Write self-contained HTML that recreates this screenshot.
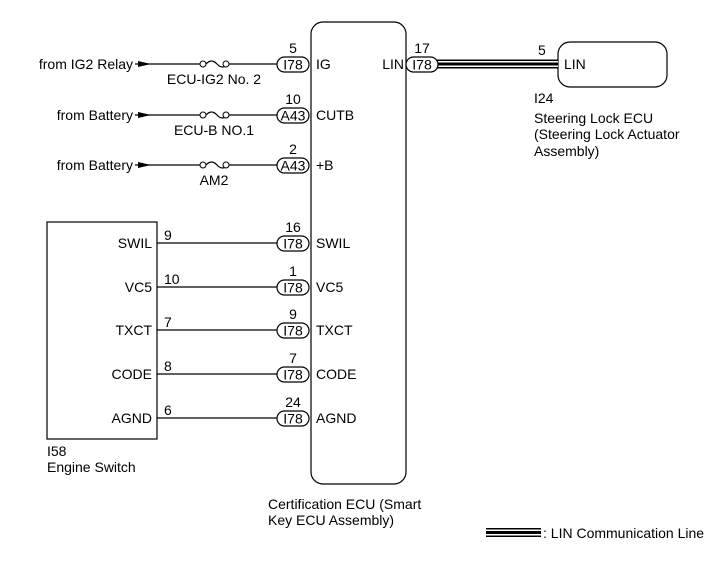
<!DOCTYPE html>
<html><head><style>body{margin:0;background:#fff}svg{display:block}text{font-family:"Liberation Sans",sans-serif;font-size:14px;fill:#000}</style></head><body>
<svg width="713" height="581" viewBox="0 0 713 581">
<g stroke="#000" stroke-width="1.2" fill="none">
<rect x="311" y="22" width="95" height="462" rx="12"/>
<rect x="558" y="42" width="109" height="45" rx="12"/>
<rect x="47" y="222" width="110" height="217"/>
<path d="M135 64H200M228 64H277"/>
<path d="M135 115H200M228 115H277"/>
<path d="M135 165H200M228 165H277"/>
<path d="M206 64q5.5 -6 11 0t11 0" />
<path d="M206 115q5.5 -6 11 0t11 0" />
<path d="M206 165q5.5 -6 11 0t11 0" />
<path d="M157 243H277M157 287H277M157 330H277M157 374H277M157 418H277"/>
</g>
<g fill="#fff" stroke="#000" stroke-width="1">
<circle cx="203" cy="64" r="3"/><circle cx="226" cy="64" r="3"/>
<circle cx="203" cy="115" r="3"/><circle cx="226" cy="115" r="3"/>
<circle cx="203" cy="165" r="3"/><circle cx="226" cy="165" r="3"/>
</g>
<g fill="#000">
<path d="M138 61L151 64L138 67Z"/><path d="M138 112L151 115L138 118Z"/><path d="M138 162L151 165L138 168Z"/>
</g>
<rect x="437" y="59.5" width="121" height="9" fill="#000"/>
<rect x="437" y="61" width="121" height="1.5" fill="#fff"/>
<rect x="437" y="65.5" width="121" height="1.5" fill="#fff"/>
<rect x="486" y="528" width="55" height="9" fill="#000"/>
<rect x="486" y="529.5" width="55" height="1.5" fill="#fff"/>
<rect x="486" y="534" width="55" height="1.5" fill="#fff"/>
<g fill="#fff" stroke="#000" stroke-width="1.2">
<rect x="277" y="57" width="32" height="15" rx="7.5"/>
<rect x="277" y="108" width="32" height="15" rx="7.5"/>
<rect x="277" y="158" width="32" height="15" rx="7.5"/>
<rect x="277" y="236" width="32" height="15" rx="7.5"/>
<rect x="277" y="280" width="32" height="15" rx="7.5"/>
<rect x="277" y="323" width="32" height="15" rx="7.5"/>
<rect x="277" y="367" width="32" height="15" rx="7.5"/>
<rect x="277" y="411" width="32" height="15" rx="7.5"/>
<rect x="406" y="57" width="32" height="15" rx="7.5"/>
</g>
<g text-anchor="middle">
<text x="293" y="69.5">I78</text><text x="293" y="120.5">A43</text><text x="293" y="170.5">A43</text>
<text x="293" y="248.5">I78</text><text x="293" y="292.5">I78</text><text x="293" y="335.5">I78</text><text x="293" y="379.5">I78</text><text x="293" y="423.5">I78</text>
<text x="422" y="69.5">I78</text>
<text x="293" y="53">5</text><text x="293" y="104">10</text><text x="293" y="154">2</text>
<text x="293" y="232">16</text><text x="293" y="276">1</text><text x="293" y="319">9</text><text x="293" y="363">7</text><text x="293" y="407">24</text>
<text x="422" y="53">17</text>
<text x="214" y="84">ECU-IG2 No. 2</text><text x="214" y="135">ECU-B NO.1</text><text x="214" y="185">AM2</text>
</g>
<g text-anchor="end">
<text x="133" y="69">from IG2 Relay</text><text x="133" y="120">from Battery</text><text x="133" y="170">from Battery</text>
<text x="152" y="248">SWIL</text><text x="152" y="292">VC5</text><text x="152" y="335">TXCT</text><text x="152" y="379">CODE</text><text x="152" y="423">AGND</text>
<text x="404" y="69">LIN</text>
</g>
<text x="316" y="69">IG</text><text x="316" y="120">CUTB</text><text x="316" y="170">+B</text>
<text x="316" y="248">SWIL</text><text x="316" y="292">VC5</text><text x="316" y="335">TXCT</text><text x="316" y="379">CODE</text><text x="316" y="423">AGND</text>
<text x="164" y="240">9</text><text x="164" y="284">10</text><text x="164" y="327">7</text><text x="164" y="371">8</text><text x="164" y="415">6</text>
<text x="538" y="55">5</text><text x="564" y="69">LIN</text>
<text x="534" y="103">I24</text><text x="534" y="123">Steering Lock ECU</text><text x="534" y="139">(Steering Lock Actuator</text><text x="534" y="156">Assembly)</text>
<text x="47" y="456">I58</text><text x="47" y="472">Engine Switch</text>
<text x="268" y="509">Certification ECU (Smart</text><text x="268" y="525">Key ECU Assembly)</text>
<text x="543" y="538">: LIN Communication Line</text>
</svg>
</body></html>
